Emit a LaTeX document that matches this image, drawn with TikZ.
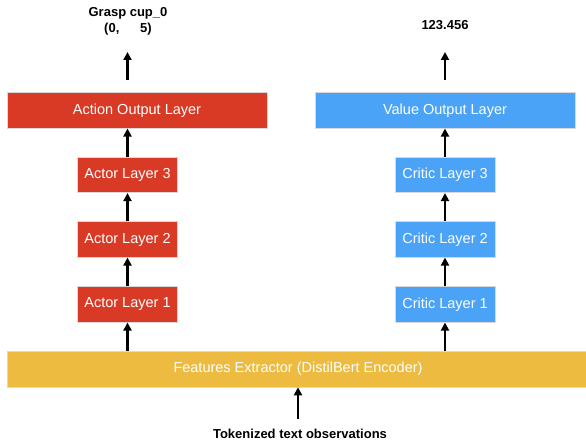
\documentclass[tikz,border=0pt]{standalone}
\usepackage{fontspec}
\setmainfont{Liberation Sans}
\usetikzlibrary{arrows.meta}
\definecolor{actred}{HTML}{D93A26}
\definecolor{critblue}{HTML}{4AA3F7}
\definecolor{featyellow}{HTML}{EDBB40}
\tikzset{
  layerbox/.style={draw=black!15, line width=0.6pt, text=white, inner sep=0pt, minimum height=35.5pt,
    font=\fontsize{14.5}{16}\selectfont},
  smallbox/.style={layerbox, minimum width=100pt},
  widebox/.style={layerbox, minimum width=260pt},
  lbl/.style={font=\bfseries\fontsize{13}{16}\selectfont, align=center, inner sep=0pt},
  flow/.style={line width=2.2pt, -{Triangle[length=8pt,width=8pt]}}
}
\begin{document}
\begin{tikzpicture}[x=1pt,y=-1pt]
\useasboundingbox (0,0) rectangle (586,443);
\begin{scope}
\clip (0,0) rectangle (586,443);
\node[layerbox, fill=featyellow, minimum width=580pt, minimum height=36pt] (feat) at (297,369) {\hspace*{2pt}Features Extractor (DistilBert Encoder)};
\end{scope}
% actor
\node[smallbox, fill=actred] (a1) at (127.5,304.5) {Actor Layer 1};
\node[smallbox, fill=actred] (a2) at (127.5,239.5) {Actor Layer 2};
\node[smallbox, fill=actred] (a3) at (127.5,175) {Actor Layer 3};
\node[widebox, fill=actred] (aout) at (137,110.5) {Action Output Layer};
% critic
\node[smallbox, fill=critblue] (c1) at (445,304.5) {Critic Layer 1};
\node[smallbox, fill=critblue] (c2) at (445,239.5) {Critic Layer 2};
\node[smallbox, fill=critblue] (c3) at (445,175) {Critic Layer 3};
\node[widebox, fill=critblue] (cout) at (445,110.5) {Value Output Layer};
% labels
\node[lbl] (alab) at (128,21.5) {Grasp cup\_0\\(0,\hspace*{1.6em}5)};
\node[lbl] (clab) at (445,25) {123.456};
\node[lbl] (tok) at (300,434) {Tokenized text observations};
\coordinate (tin) at (298,419);
\coordinate (aup) at (127.5,80);
\coordinate (cup) at (445,80);
% arrows
\draw[flow] (tin) -- (tin |- feat.south);
\draw[flow] (a1.south |- feat.north) -- (a1.south);
\draw[flow] (a1.north) -- (a2.south);
\draw[flow] (a2.north) -- (a3.south);
\draw[flow] (a3.north) -- (a3.north |- aout.south);
\draw[flow] (aup) -- ++(0,-28);
\draw[flow] (c1.south |- feat.north) -- (c1.south);
\draw[flow] (c1.north) -- (c2.south);
\draw[flow] (c2.north) -- (c3.south);
\draw[flow] (c3.north) -- (c3.north |- cout.south);
\draw[flow] (cup) -- ++(0,-28);
\end{tikzpicture}
\end{document}
